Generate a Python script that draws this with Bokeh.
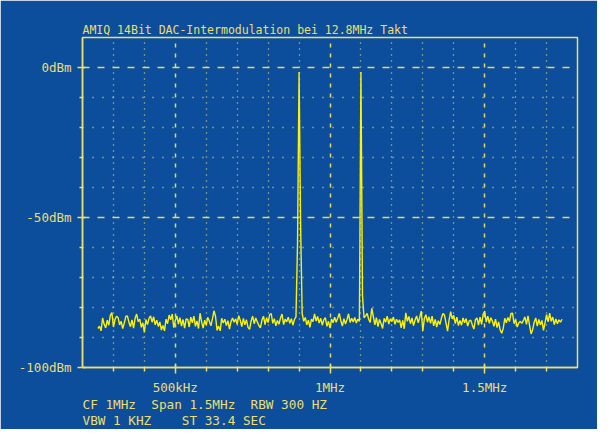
from bokeh.plotting import figure
from bokeh.models import FixedTicker, Title, ColumnDataSource
from bokeh.embed import file_html
from bokeh.resources import INLINE

# ---------------- data ----------------
title_text = "AMIQ 14Bit DAC-Intermodulation bei 12.8MHz Takt"
info_line1 = "CF 1MHz  Span 1.5MHz  RBW 300 HZ"
info_line2 = "VBW 1 KHZ    ST 33.4 SEC"

x_major_ticks = [0.5, 1.0, 1.5]
x_major_labels = ["500kHz", "1MHz", "1.5MHz"]
x_minor_ticks = [0.3, 0.4, 0.6, 0.7, 0.8, 0.9, 1.1, 1.2, 1.3, 1.4, 1.6, 1.7]
y_major_ticks = [-100, -50, 0]
y_major_labels = ["-100dBm", "-50dBm", "0dBm"]
y_minor_ticks = [-90, -80, -70, -60, -40, -30, -20, -10]

sweep_start_mhz = 0.25
sweep_step_mhz = 0.005

level_dbm = [
    # 250 .. 535 kHz
    -87.0, -86.2, -87.8, -83.5, -85.6, -86.8, -84.2, -85.9, -82.6, -81.7,
    -86.5, -84.0, -82.9, -83.4, -85.8, -84.6, -87.0, -85.2, -83.0, -82.8,
    -84.9, -86.4, -84.1, -86.9, -83.6, -82.2, -84.7, -83.9, -86.6, -85.1,
    -88.3, -84.0, -85.7, -83.6, -82.8, -84.9, -83.1, -85.8, -84.2, -86.3,
    -84.8, -87.5, -86.0, -87.8, -83.9, -85.4, -82.5, -84.1, -82.2, -86.7,
    -84.3, -82.8, -85.5, -83.4, -86.2, -84.0, -86.9, -83.8,
    # 540 .. 835 kHz
    -84.0, -86.5, -83.2, -85.1, -82.9, -86.3, -84.5, -87.0, -81.9, -84.8,
    -86.9, -84.2, -85.9, -83.3, -84.6, -86.1, -83.8, -81.1, -83.0, -87.6,
    -86.2, -87.8, -83.6, -85.2, -83.9, -86.0, -84.4, -87.2, -84.7, -83.5,
    -84.9, -83.8, -85.6, -82.7, -84.3, -86.4, -83.6, -85.8, -84.1, -86.6,
    -87.3, -84.5, -82.9, -85.4, -83.5, -84.8, -86.0, -86.8, -84.2, -82.9,
    -85.7, -83.4, -85.0, -82.4, -82.0, -85.3, -83.7, -86.1, -84.3, -85.6,
    # 840 .. 1135 kHz (tones at 900 kHz and 1100 kHz)
    -83.5, -82.2, -85.7, -83.9, -84.8, -83.2, -85.3, -83.7, -85.9, -84.0,
    -83.1, -59.0, -1.5, -52.7, -82.0, -84.6, -83.3, -85.8, -84.2, -86.6,
    -83.9, -84.7, -82.1, -84.5, -83.0, -85.2, -83.6, -85.9, -84.1, -83.4,
    -86.3, -84.6, -86.9, -83.8, -85.1, -83.2, -84.9, -83.5, -82.0, -84.4,
    -86.2, -83.7, -85.5, -84.0, -82.1, -85.0, -83.6, -84.8, -83.3, -85.2,
    -83.9, -84.6, -1.5, -76.0, -83.4, -82.8, -82.0, -83.9, -85.0, -80.3,
    # 1140 .. 1450 kHz
    -83.0, -85.8, -83.4, -86.4, -84.0, -85.3, -87.0, -83.6, -84.9, -82.9,
    -85.5, -83.8, -84.7, -83.2, -85.6, -83.9, -85.0, -84.1, -86.8, -84.3,
    -87.1, -81.8, -84.6, -83.0, -85.4, -83.5, -86.0, -84.2, -82.8, -85.1,
    -83.3, -81.2, -87.8, -83.7, -82.4, -84.9, -83.1, -85.3, -82.9, -86.1,
    -84.0, -86.5, -84.4, -85.7, -83.6, -82.0, -82.5, -85.2, -87.9, -84.1,
    -81.4, -83.8, -82.6, -85.4, -83.2, -86.0, -84.3, -85.9, -83.5, -85.1,
    -83.7, -86.2, -84.5,
    # 1455 .. 1750 kHz
    -84.2, -85.8, -87.2, -84.1, -83.5, -85.9, -83.2, -85.6, -82.3, -81.2,
    -84.9, -82.9, -85.3, -83.4, -84.6, -86.3, -83.9, -86.7, -84.8, -87.5,
    -88.6, -86.9, -83.6, -85.1, -83.3, -84.7, -82.0, -81.9, -85.4, -84.0,
    -86.5, -85.2, -84.6, -85.3, -84.4, -83.1, -85.6, -82.8, -86.0, -88.8,
    -87.4, -84.9, -83.5, -86.2, -84.0, -85.8, -84.3, -87.6, -85.1, -82.4,
    -84.8, -81.9, -84.6, -83.2, -85.7, -83.8, -85.4, -84.1, -84.9, -83.9,
]
freq_mhz = [round(sweep_start_mhz + sweep_step_mhz * i, 4) for i in range(len(level_dbm))]

# ---------------- style ----------------
BLUE = "#0C4E9C"
TEXT_YELLOW = "#EEDF6C"
GRID_YELLOW = "#E4D868"
TRACE_YELLOW = "#FFF200"
FONT = "DejaVu Sans Mono"
NBSP = "\u00a0"

p = figure(
    width=597, height=429,
    x_range=(0.2, 1.8), y_range=(-100, 10),
    output_backend="svg", toolbar_location=None,
    background_fill_color=BLUE, border_fill_color=BLUE,
    min_border_left=82, min_border_right=20,
    min_border_top=37, min_border_bottom=62,
)
p.outline_line_color = TEXT_YELLOW
p.outline_line_width = 1.5

# title above the frame
p.title.text = title_text
p.title.align = "left"
p.title.text_color = TEXT_YELLOW
p.title.text_font = FONT
p.title.text_font_size = "11.5px"
p.title.text_font_style = "normal"
p.title.standoff = 2

# axes
p.xaxis.ticker = FixedTicker(ticks=x_major_ticks, minor_ticks=x_minor_ticks)
p.yaxis.ticker = FixedTicker(ticks=y_major_ticks, minor_ticks=y_minor_ticks)
p.xaxis.major_label_overrides = dict(zip(x_major_ticks, x_major_labels))
p.yaxis.major_label_overrides = dict(zip(y_major_ticks, y_major_labels))

for ax in (p.xaxis[0], p.yaxis[0]):
    ax.axis_line_color = TEXT_YELLOW
    ax.axis_line_width = 1.5
    ax.major_tick_line_color = TEXT_YELLOW
    ax.minor_tick_line_color = TEXT_YELLOW
    ax.major_tick_line_width = 1.5
    ax.minor_tick_line_width = 1.5
    ax.major_label_text_color = TEXT_YELLOW
    ax.major_label_text_font = FONT
    ax.major_label_text_font_size = "12.5px"
    ax.minor_tick_in = 0

p.xaxis.major_tick_in = 3
p.xaxis.major_tick_out = 6
p.xaxis.minor_tick_out = 4
p.xaxis.major_label_standoff = 6
p.yaxis.major_tick_in = 3
p.yaxis.major_tick_out = 5
p.yaxis.minor_tick_out = 3
p.yaxis.major_label_standoff = 6

# info lines below the x axis (non-breaking spaces keep the column spacing)
for line, gap in ((info_line1, -5), (info_line2, 2)):
    p.add_layout(Title(text=line.replace(" ", NBSP), align="left", text_color=TEXT_YELLOW,
                       text_font=FONT, text_font_size="12.7px",
                       text_font_style="normal", standoff=gap), "below")

# grids
p.xgrid.grid_line_color = GRID_YELLOW
p.xgrid.grid_line_width = 1.5
p.xgrid.grid_line_dash = "4 6"
p.xgrid.minor_grid_line_color = GRID_YELLOW
p.xgrid.minor_grid_line_width = 1.3
p.xgrid.minor_grid_line_dash = "1 5"

p.ygrid.grid_line_color = GRID_YELLOW
p.ygrid.grid_line_width = 1.5
p.ygrid.grid_line_dash = "7 8"
p.ygrid.minor_grid_line_color = GRID_YELLOW
p.ygrid.minor_grid_line_width = 1.3
p.ygrid.minor_grid_line_dash = "1 9"

# trace
src = ColumnDataSource(data=dict(f=freq_mhz, lvl=level_dbm))
p.line("f", "lvl", source=src, line_color=TRACE_YELLOW, line_width=1.4)

open("out.html", "w").write(file_html(p, INLINE))
